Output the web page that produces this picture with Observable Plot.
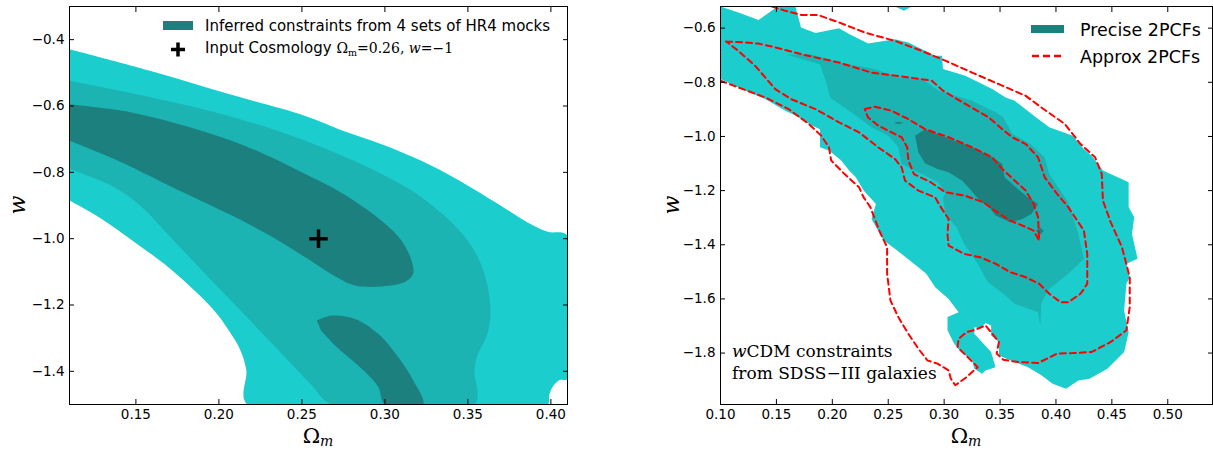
<!DOCTYPE html>
<html><head><meta charset="utf-8">
<script src="https://cdn.jsdelivr.net/npm/d3@7"></script>
<script src="https://cdn.jsdelivr.net/npm/@observablehq/plot@0.6"></script>
<style>
body{margin:0;background:#fff;}
#wrap{position:relative;width:1213px;height:450px;overflow:hidden;background:#fff;}
#left{position:absolute;left:0;top:0;}
#right{position:absolute;left:613px;top:0;}
</style></head><body><div id="wrap"><div id="left"></div><div id="right"></div></div>
<script>
// ---------- tick values ----------
const leftXTicks = [0.15, 0.20, 0.25, 0.30, 0.35, 0.40];
const leftYTicks = [-1.4, -1.2, -1.0, -0.8, -0.6, -0.4];
const rightXTicks = [0.10, 0.15, 0.20, 0.25, 0.30, 0.35, 0.40, 0.45, 0.50];
const rightYTicks = [-1.8, -1.6, -1.4, -1.2, -1.0, -0.8, -0.6];

// ---------- left panel: HR4 mock constraints (Omega_m, w) ----------
const leftLight = [
[0.11,-0.429],[0.160,-0.496],[0.206,-0.564],[0.252,-0.630],[0.275,-0.675],[0.298,-0.715],[0.322,-0.765],[0.345,-0.825],[0.368,-0.895],[0.386,-0.951],[0.398,-0.979],[0.41,-0.991],
[0.41,-1.422],[0.405,-1.427],[0.401,-1.447],[0.399,-1.472],[0.398,-1.5],
[0.217,-1.5],[0.2165,-1.397],[0.213,-1.337],[0.206,-1.277],[0.197,-1.216],[0.183,-1.146],[0.167,-1.076],[0.148,-1.006],[0.128,-0.936],[0.11,-0.885]];
const leftMid = [
[0.11,-0.524],[0.160,-0.575],[0.206,-0.630],[0.252,-0.705],[0.298,-0.805],[0.322,-0.875],[0.345,-0.976],[0.356,-1.056],[0.362,-1.146],[0.3635,-1.236],[0.361,-1.297],[0.356,-1.347],[0.354,-1.397],[0.354,-1.5],
[0.268,-1.5],[0.255,-1.437],[0.234,-1.327],[0.211,-1.206],[0.188,-1.086],[0.169,-0.986],[0.155,-0.911],[0.137,-0.845],[0.11,-0.790]];
const leftDarkUpper = [
[0.11,-0.595],[0.148,-0.620],[0.183,-0.665],[0.218,-0.725],[0.252,-0.805],[0.275,-0.865],[0.298,-0.946],[0.310,-1.006],[0.316,-1.066],[0.317,-1.106],[0.312,-1.131],[0.298,-1.144],[0.282,-1.141],[0.271,-1.116],[0.252,-1.056],[0.229,-0.986],[0.206,-0.926],[0.172,-0.845],[0.137,-0.760],[0.11,-0.705]];
const leftDarkLower = [
[0.259,-1.247],[0.268,-1.232],[0.282,-1.242],[0.296,-1.287],[0.308,-1.357],[0.317,-1.427],[0.323,-1.5],[0.300,-1.5],[0.296,-1.447],[0.287,-1.397],[0.271,-1.327],[0.2615,-1.277]];
const inputCosmology = [[0.26, -1.0]];

// ---------- right panel: SDSS-III constraints ----------
const preciseOuter = [
[0.100,-0.520],[0.116,-0.542],[0.134,-0.570],[0.150,-0.524],[0.156,-0.520],[0.167,-0.520],[0.172,-0.598],[0.185,-0.618],[0.206,-0.600],[0.215,-0.622],[0.232,-0.657],[0.256,-0.641],[0.268,-0.653],[0.292,-0.702],[0.298,-0.702],[0.299,-0.751],[0.319,-0.776],[0.343,-0.825],[0.355,-0.856],[0.363,-0.868],[0.380,-0.923],[0.394,-0.966],[0.415,-0.997],[0.425,-1.046],[0.432,-1.071],[0.442,-1.126],[0.465,-1.169],[0.465,-1.261],[0.470,-1.298],[0.468,-1.360],[0.473,-1.452],[0.463,-1.470],[0.466,-1.520],[0.463,-1.544],[0.461,-1.643],[0.465,-1.723],[0.461,-1.796],[0.446,-1.858],[0.430,-1.895],[0.420,-1.901],[0.409,-1.932],[0.397,-1.913],[0.387,-1.882],[0.375,-1.852],[0.359,-1.827],[0.349,-1.809],[0.349,-1.759],[0.342,-1.735],[0.342,-1.698],[0.337,-1.689],[0.332,-1.710],[0.327,-1.704],[0.327,-1.729],[0.342,-1.796],[0.346,-1.852],[0.337,-1.864],[0.334,-1.876],[0.327,-1.858],[0.325,-1.827],[0.315,-1.796],[0.309,-1.766],[0.303,-1.716],[0.303,-1.667],[0.313,-1.649],[0.304,-1.600],[0.292,-1.557],[0.284,-1.507],[0.273,-1.470],[0.256,-1.415],[0.246,-1.384],[0.235,-1.305],[0.239,-1.249],[0.228,-1.200],[0.221,-1.151],[0.215,-1.126],[0.208,-1.089],[0.197,-1.052],[0.189,-1.040],[0.189,-0.973],[0.182,-0.960],[0.167,-0.923],[0.158,-0.905],[0.140,-0.862],[0.116,-0.819],[0.100,-0.788]];
const preciseSpeck = [[0.256,-0.52],[0.271,-0.52],[0.264,-0.536]];
const preciseMid = [
[0.159,-0.698],[0.181,-0.696],[0.206,-0.727],[0.238,-0.751],[0.259,-0.782],[0.280,-0.788],[0.295,-0.831],[0.325,-0.868],[0.346,-0.911],[0.353,-0.930],[0.361,-0.991],[0.377,-1.028],[0.390,-1.077],[0.394,-1.139],[0.411,-1.243],[0.420,-1.360],[0.425,-1.452],[0.411,-1.507],[0.394,-1.563],[0.387,-1.612],[0.386,-1.698],[0.384,-1.649],[0.363,-1.618],[0.353,-1.581],[0.339,-1.538],[0.330,-1.470],[0.318,-1.397],[0.311,-1.335],[0.301,-1.286],[0.299,-1.225],[0.301,-1.212],[0.295,-1.169],[0.280,-1.139],[0.262,-1.102],[0.259,-1.040],[0.250,-0.997],[0.235,-0.966],[0.215,-0.905],[0.198,-0.856],[0.195,-0.807],[0.189,-0.733]];
const preciseInner = [
[0.274,-0.997],[0.283,-0.973],[0.301,-1.003],[0.325,-1.040],[0.343,-1.077],[0.352,-1.102],[0.354,-1.151],[0.366,-1.194],[0.375,-1.225],[0.384,-1.249],[0.378,-1.286],[0.370,-1.305],[0.359,-1.317],[0.346,-1.292],[0.340,-1.261],[0.332,-1.237],[0.323,-1.194],[0.316,-1.163],[0.304,-1.132],[0.294,-1.120],[0.283,-1.099],[0.277,-1.059]];
const preciseDotA = [[0.255,-0.950],[0.259,-0.946],[0.264,-0.950],[0.259,-0.954]];
const preciseDotB = [[0.382,-1.348],[0.386,-1.336],[0.389,-1.348],[0.386,-1.362]];

const approxOuter = [
[0.146,-0.52],[0.158,-0.536],[0.172,-0.551],[0.187,-0.551],[0.206,-0.579],[0.229,-0.616],[0.256,-0.647],[0.280,-0.684],[0.301,-0.720],[0.325,-0.764],[0.349,-0.807],[0.373,-0.850],[0.387,-0.893],[0.408,-0.954],[0.415,-0.991],[0.422,-1.028],[0.435,-1.077],[0.441,-1.139],[0.442,-1.237],[0.449,-1.317],[0.459,-1.409],[0.466,-1.520],[0.466,-1.630],[0.463,-1.716],[0.449,-1.759],[0.432,-1.796],[0.415,-1.800],[0.401,-1.802],[0.384,-1.837],[0.366,-1.833],[0.353,-1.825],[0.347,-1.802],[0.349,-1.759],[0.342,-1.723],[0.337,-1.698],[0.328,-1.714],[0.320,-1.723],[0.313,-1.747],[0.312,-1.778],[0.321,-1.815],[0.330,-1.852],[0.320,-1.889],[0.310,-1.919],[0.306,-1.895],[0.304,-1.864],[0.294,-1.839],[0.285,-1.827],[0.277,-1.784],[0.268,-1.729],[0.259,-1.667],[0.252,-1.606],[0.249,-1.507],[0.249,-1.409],[0.242,-1.348],[0.234,-1.261],[0.228,-1.225],[0.224,-1.188],[0.211,-1.139],[0.199,-1.089],[0.197,-1.040],[0.190,-0.997],[0.179,-0.954],[0.161,-0.899],[0.140,-0.856],[0.116,-0.819],[0.100,-0.794]];
const approxMid = [
[0.105,-0.649],[0.122,-0.653],[0.134,-0.657],[0.149,-0.671],[0.172,-0.696],[0.206,-0.727],[0.235,-0.764],[0.265,-0.780],[0.289,-0.794],[0.299,-0.831],[0.319,-0.880],[0.340,-0.930],[0.352,-0.973],[0.361,-1.003],[0.373,-1.028],[0.384,-1.077],[0.390,-1.151],[0.401,-1.212],[0.411,-1.261],[0.425,-1.348],[0.428,-1.434],[0.428,-1.544],[0.422,-1.581],[0.411,-1.612],[0.404,-1.612],[0.394,-1.581],[0.385,-1.544],[0.373,-1.520],[0.359,-1.501],[0.346,-1.470],[0.332,-1.446],[0.318,-1.434],[0.304,-1.403],[0.303,-1.360],[0.304,-1.305],[0.297,-1.261],[0.292,-1.225],[0.277,-1.200],[0.265,-1.163],[0.262,-1.114],[0.256,-1.083],[0.241,-1.040],[0.224,-0.985],[0.206,-0.948],[0.185,-0.899],[0.163,-0.862],[0.149,-0.825],[0.140,-0.782],[0.131,-0.739],[0.116,-0.684],[0.105,-0.649]];
const approxInner = [
[0.229,-0.899],[0.238,-0.890],[0.253,-0.905],[0.268,-0.936],[0.283,-0.973],[0.304,-1.003],[0.325,-1.040],[0.343,-1.077],[0.352,-1.120],[0.363,-1.163],[0.373,-1.200],[0.380,-1.249],[0.384,-1.298],[0.385,-1.384],[0.380,-1.348],[0.370,-1.329],[0.359,-1.311],[0.346,-1.276],[0.335,-1.243],[0.318,-1.218],[0.301,-1.206],[0.288,-1.169],[0.273,-1.139],[0.268,-1.089],[0.267,-1.040],[0.262,-1.003],[0.253,-0.985],[0.241,-0.960],[0.232,-0.930],[0.229,-0.899]];

// ---------- styling ----------
const C = {light: "#1ccdcd", mid: "#1cb3b3", dark: "#1b807e"};
const px = d => d[0], py = d => d[1];
const poly = (data, fill, curve) => Plot.line(data, {x: px, y: py, fill, stroke: "none", curve, clip: true});
const dashed = data => Plot.line(data, {x: px, y: py, stroke: "#ff0000", strokeWidth: 2, strokeDasharray: "6,4", clip: true});
const style = {fontFamily: "DejaVu Sans", fontSize: "13.5px", color: "black", background: "white", overflow: "visible"};
const blank = () => "";
function axes(xt, yt, xf, yf) {
  return [
    Plot.axisX(xt, {anchor: "bottom", tickSize: 0, tickPadding: 5, tickFormat: xf, fontSize: 13.5, label: null}),
    Plot.axisX(xt, {anchor: "bottom", tickSize: -5, tickFormat: blank, label: null}),
    Plot.axisX(xt, {anchor: "top", tickSize: -5, tickFormat: blank, label: null}),
    Plot.axisY(yt, {anchor: "left", tickSize: 0, tickPadding: 5, tickFormat: yf, fontSize: 13.5, label: null}),
    Plot.axisY(yt, {anchor: "left", tickSize: -5, tickFormat: blank, label: null}),
    Plot.axisY(yt, {anchor: "right", tickSize: -5, tickFormat: blank, label: null}),
    Plot.frame({stroke: "black", strokeWidth: 1})
  ];
}

const left = Plot.plot({
  width: 600, height: 450, marginLeft: 69, marginRight: 33, marginTop: 6, marginBottom: 46,
  x: {domain: [0.11, 0.41]}, y: {domain: [-1.5, -0.3]}, style,
  marks: [
    poly(leftLight, C.light, "catmull-rom"),
    poly(leftMid, C.mid, "catmull-rom"),
    poly(leftDarkUpper, C.dark, "catmull-rom"),
    poly(leftDarkLower, C.dark, "catmull-rom"),
    Plot.dot(inputCosmology, {x: px, y: py, symbol: "plus", r: 6, stroke: "black", strokeWidth: 3.5}),
    ...axes(leftXTicks, leftYTicks, ".2f", ".1f")
  ]
});
document.getElementById("left").appendChild(left);

const right = Plot.plot({
  width: 600, height: 450, marginLeft: 107, marginRight: 1, marginTop: 6, marginBottom: 46,
  x: {domain: [0.10, 0.54]}, y: {domain: [-1.99, -0.52]}, style,
  marks: [
    poly(preciseOuter, C.light, "linear"),
    poly(preciseSpeck, C.light, "linear"),
    poly(preciseMid, C.mid, "linear"),
    poly(preciseInner, C.dark, "linear"),
    poly(preciseDotA, C.dark, "linear"),
    poly(preciseDotB, C.dark, "linear"),
    dashed(approxOuter),
    dashed(approxMid),
    dashed(approxInner),
    ...axes(rightXTicks, rightYTicks, ".2f", ".1f")
  ]
});
document.getElementById("right").appendChild(right);

// ---------- axis titles, legends, annotation ----------
function omegaLabel(svg, cx, y) {
  const t = svg.append("text").attr("x", cx).attr("y", y).attr("text-anchor", "middle")
    .attr("font-family", "DejaVu Serif").attr("font-size", 21).attr("fill", "black");
  t.append("tspan").text("Ω");
  t.append("tspan").attr("dy", 3).attr("font-size", 14).attr("font-style", "italic").text("m");
}
function wLabel(svg, x, y) {
  svg.append("text").attr("transform", `translate(${x},${y}) rotate(-90)`).attr("text-anchor", "middle")
    .attr("font-family", "DejaVu Serif").attr("font-style", "italic").attr("font-size", 22).attr("fill", "black").text("w");
}
const L = d3.select(left), R = d3.select(right);
omegaLabel(L, 318, 443); wLabel(L, 25, 205);
omegaLabel(R, 353, 443); wLabel(R, 66, 205);

// left legend
L.append("rect").attr("x", 163).attr("y", 21).attr("width", 30).attr("height", 9).attr("fill", C.dark);
L.append("text").attr("x", 205).attr("y", 31).attr("text-anchor", "start").attr("font-family", "DejaVu Sans").attr("font-size", 15).attr("fill", "black")
  .text("Inferred constraints from 4 sets of HR4 mocks");
L.append("path").attr("d", "M171,49.5H185M178,42.5V56.5").attr("stroke", "black").attr("stroke-width", 3.5);
const t2 = L.append("text").attr("x", 205).attr("y", 52.5).attr("text-anchor", "start").attr("font-family", "DejaVu Sans").attr("font-size", 15).attr("fill", "black");
t2.append("tspan").text("Input Cosmology ");
t2.append("tspan").attr("font-family", "DejaVu Serif").attr("font-size", 14).text("Ω");
t2.append("tspan").attr("font-family", "DejaVu Serif").attr("font-size", 9.5).attr("dy", 3).text("m");
t2.append("tspan").attr("font-family", "DejaVu Serif").attr("font-size", 14).attr("dy", -3).text("=0.26, ");
t2.append("tspan").attr("font-family", "DejaVu Serif").attr("font-style", "italic").attr("font-size", 14).text("w");
t2.append("tspan").attr("font-family", "DejaVu Serif").attr("font-size", 14).text("=−1");

// right legend
R.append("rect").attr("x", 418).attr("y", 25).attr("width", 33).attr("height", 8).attr("fill", C.dark);
R.append("text").attr("x", 467).attr("y", 35.5).attr("text-anchor", "start").attr("font-family", "DejaVu Sans").attr("font-size", 17.5).attr("fill", "black").text("Precise 2PCFs");
R.append("line").attr("x1", 419).attr("x2", 451).attr("y1", 56).attr("y2", 56).attr("stroke", "#ff0000").attr("stroke-width", 2.5).attr("stroke-dasharray", "7,4");
R.append("text").attr("x", 467).attr("y", 62.5).attr("text-anchor", "start").attr("font-family", "DejaVu Sans").attr("font-size", 17.5).attr("fill", "black").text("Approx 2PCFs");

// annotation
const a1 = R.append("text").attr("x", 119).attr("y", 357).attr("text-anchor", "start").attr("font-family", "DejaVu Serif").attr("font-size", 17).attr("fill", "black");
a1.append("tspan").attr("font-style", "italic").text("w");
a1.append("tspan").text("CDM constraints");
R.append("text").attr("x", 119).attr("y", 379).attr("text-anchor", "start").attr("font-family", "DejaVu Serif").attr("font-size", 17).attr("fill", "black").text("from SDSS−III galaxies");
</script>
</body></html>
